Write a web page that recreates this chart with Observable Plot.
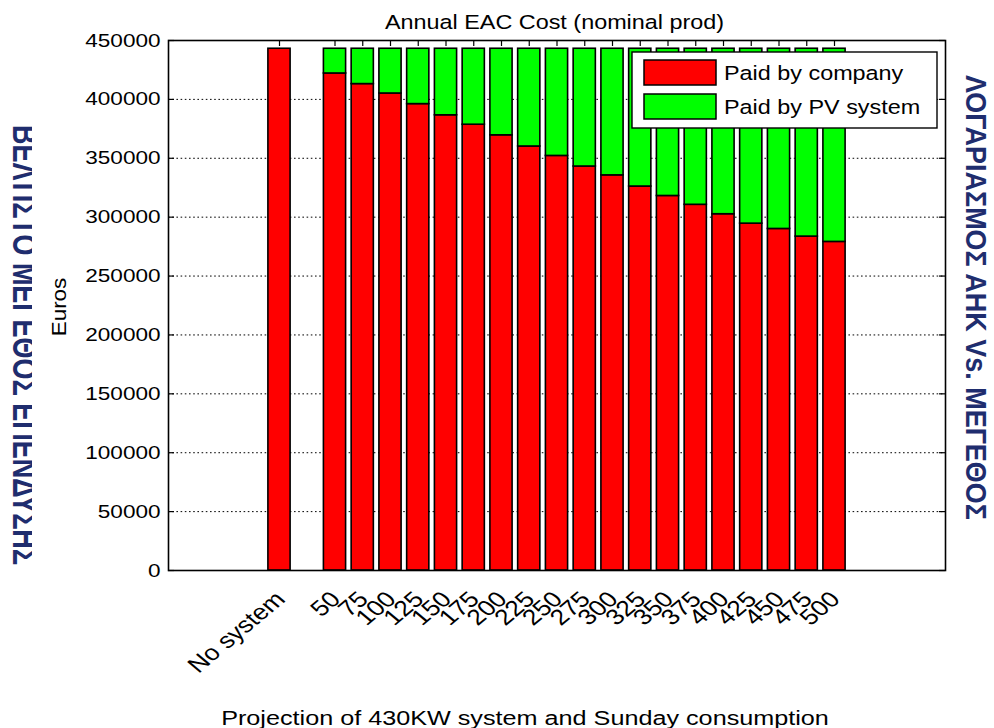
<!DOCTYPE html>
<html><head><meta charset="utf-8">
<script src="https://cdn.jsdelivr.net/npm/d3@7"></script>
<script src="https://cdn.jsdelivr.net/npm/@observablehq/plot@0.6"></script>
<style>body{margin:0;background:#fff;overflow:hidden} svg{display:block}</style>
</head><body><div id="chart"></div>
<script>
// ---- data ----
const categories = ["No system","50","75","100","125","150","175","200","225","250","275","300","325","350","375","400","425","450","475","500"];
const paidByCompany = [443000,422000,413000,405000,396000,386500,378500,369500,360000,352000,343000,335500,326000,318000,310500,302500,294500,290000,283500,279000];
const paidByPV = [0,21000,30000,38000,47000,56500,64500,73500,83000,91000,100000,107500,117000,125000,132500,140500,148500,153000,159500,164000];
const yTicks = [0,50000,100000,150000,200000,250000,300000,350000,400000,450000];
const seriesNames = ["Paid by company","Paid by PV system"];
const seriesColors = ["#ff0000","#00ff00"];
const titleText = "Annual EAC Cost (nominal prod)";
const xLabelText = "Projection of 430KW system and Sunday consumption";
const yLabelText = "Euros";
const leftSideText = "ΒΕΛΤΙΣΤΟ ΜΕΓΕΘΟΣ ΕΠΕΝΔΥΣΗΣ";
const rightSideText = "ΛΟΓΑΡΙΑΣΜΟΣ ΑΗΚ Vs. ΜΕΓΕΘΟΣ";

// one empty slot between "No system" and the first PV size
const rows = categories.map((c, i) => ({cat: c, slot: i === 0 ? 0 : i + 1, company: paidByCompany[i], pv: paidByPV[i]}));
const half = 0.4;
const font = "'Liberation Sans', Arial, sans-serif";

const plot = Plot.plot({
  width: 994, height: 728,
  marginLeft: 168, marginRight: 49, marginTop: 40, marginBottom: 158,
  style: {fontFamily: font, background: "#fff", overflow: "visible"},
  x: {type: "linear", domain: [-4, 24], axis: null},
  y: {domain: [0, 450000], axis: null},
  marks: [
    Plot.ruleY(yTicks.filter(v => v > 0 && v < 450000), {stroke: "#000", strokeWidth: 1, strokeDasharray: "1.6,2.6"}),
    Plot.tickY(yTicks, {y: d => d, stroke: "#000", strokeWidth: 1.2, insetRight: 771}),
    Plot.tickY(yTicks, {y: d => d, stroke: "#000", strokeWidth: 1.2, insetLeft: 771}),
    Plot.tickX(rows, {x: "slot", stroke: "#000", strokeWidth: 1.2, insetBottom: 524}),
    Plot.rect(rows, {x1: d => d.slot - half, x2: d => d.slot + half, y1: 0, y2: "company", fill: seriesColors[0], stroke: "#000", strokeWidth: 1.6}),
    Plot.rect(rows.filter(d => d.pv > 0), {x1: d => d.slot - half, x2: d => d.slot + half, y1: "company", y2: d => d.company + d.pv, fill: seriesColors[1], stroke: "#000", strokeWidth: 1.6}),
    Plot.frame({stroke: "#000", strokeWidth: 1.6}),
    Plot.text(yTicks, {x: -4, y: d => d, text: d => d3.format("d")(d), textAnchor: "end", dx: -8, fontSize: 18.8, fill: "#000"}),
    Plot.text(rows, {x: "slot", y: 0, text: "cat", rotate: -45, textAnchor: "end", lineAnchor: "bottom", dx: 7, dy: 30, fontSize: 22, fill: "#000"})
  ]
});
document.getElementById("chart").appendChild(plot);

const svg = d3.select(plot);
// horizontal stretch of the original figure
svg.selectAll("text").each(function() {
  const t = this.getAttribute("transform");
  if (!t) return;
  if (t.includes("rotate")) this.setAttribute("transform", t.replace("rotate(", "scale(1.2,1) rotate("));
  else this.setAttribute("transform", t + " scale(1.2,1)");
});

const g = svg.append("g").attr("font-family", font).attr("fill", "#000");
g.append("text").attr("transform", "translate(554.5,28.5) scale(1.2,1)").attr("text-anchor", "middle").attr("font-size", 19.5).text(titleText);
g.append("text").attr("transform", "translate(66,307) rotate(-90) scale(1.15,1)").attr("text-anchor", "middle").attr("font-size", 19.5).text(yLabelText);
g.append("text").attr("transform", "translate(525,725) scale(1.2,1)").attr("text-anchor", "middle").attr("font-size", 21).text(xLabelText);

// legend
const lg = g.append("g");
lg.append("rect").attr("x", 632).attr("y", 52).attr("width", 305).attr("height", 76).attr("fill", "#fff").attr("stroke", "#000").attr("stroke-width", 1.4);
seriesNames.forEach((name, i) => {
  const y0 = 60 + i * 34;
  lg.append("rect").attr("x", 644).attr("y", y0).attr("width", 72).attr("height", 25).attr("fill", seriesColors[i]).attr("stroke", "#000").attr("stroke-width", 1.5);
  lg.append("text").attr("transform", `translate(724,${y0 + 19.5}) scale(1.2,1)`).attr("text-anchor", "start").attr("font-size", 19.5).text(name);
});

// side texts (the left one is partly hidden by the figure, as in the original slide)
svg.append("defs").append("clipPath").attr("id", "leftClip")
  .append("rect").attr("x", 0).attr("y", 0).attr("width", 32).attr("height", 728);
g.append("g").attr("clip-path", "url(#leftClip)")
  .append("text").attr("transform", "translate(13,125) rotate(90) scale(1,1.32)").attr("text-anchor", "start").attr("font-size", 26.5).attr("font-weight", "bold").attr("fill", "#1f2d6e").attr("textLength", 440).attr("lengthAdjust", "spacingAndGlyphs").text(leftSideText);
g.append("text").attr("transform", "translate(966,75) rotate(90) scale(1,1.1)").attr("text-anchor", "start").attr("font-size", 26.5).attr("font-weight", "bold").attr("fill", "#1f2d6e").attr("textLength", 445).attr("lengthAdjust", "spacingAndGlyphs").text(rightSideText);
</script>
</body></html>
